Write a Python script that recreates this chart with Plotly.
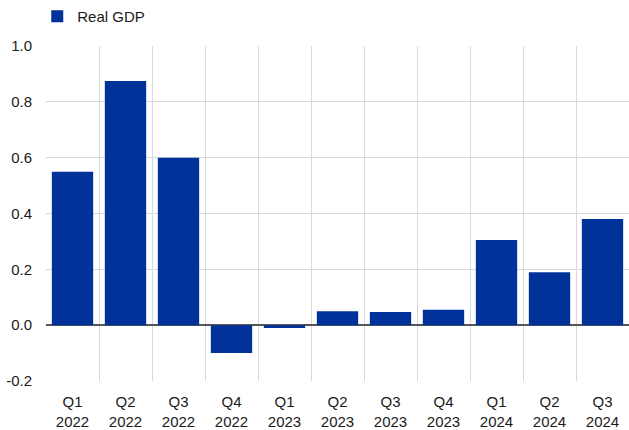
import plotly.graph_objects as go

categories = ["Q1<br>2022", "Q2<br>2022", "Q3<br>2022", "Q4<br>2022", "Q1<br>2023", "Q2<br>2023",
              "Q3<br>2023", "Q4<br>2023", "Q1<br>2024", "Q2<br>2024", "Q3<br>2024"]
real_gdp = [0.55, 0.875, 0.60, -0.10, -0.01, 0.05, 0.047, 0.055, 0.305, 0.19, 0.38]
y_tick_vals = [-0.2, 0.0, 0.2, 0.4, 0.6, 0.8, 1.0]
y_tick_text = ["-0.2", "0.0", "0.2", "0.4", "0.6", "0.8", "1.0"]

fig = go.Figure()
fig.add_trace(go.Bar(
    x=categories, y=real_gdp, name="Real GDP",
    marker=dict(color="#003299", line=dict(width=0)),
    showlegend=True,
))

fig.update_layout(
    width=629, height=430,
    margin=dict(l=46, r=0, t=44, b=47),
    paper_bgcolor="white", plot_bgcolor="white",
    font=dict(family="Liberation Sans, Arial, sans-serif", size=15, color="#1a1a1a"),
    bargap=0.22,
    showlegend=True,
    legend=dict(x=-0.015, y=1.04, xanchor="left", yanchor="bottom", orientation="h",
                font=dict(size=15), bgcolor="rgba(0,0,0,0)", itemwidth=30),
    xaxis=dict(
        type="category", tickson="boundaries", showgrid=True, gridcolor="#d9d9d9", gridwidth=1,
        ticks="", showline=False, tickfont=dict(size=15), range=[-0.5, 10.5],
        ticklabelstandoff=10,
    ),
    yaxis=dict(
        range=[-0.2, 1.0], tickvals=y_tick_vals, ticktext=y_tick_text,
        showgrid=True, gridcolor="#d9d9d9", gridwidth=1,
        zeroline=True, zerolinecolor="#555555", zerolinewidth=1.5,
        ticks="", showline=False, tickfont=dict(size=15), ticklabelstandoff=13,
    ),
)

fig.write_html("out.html", config={"displayModeBar": False},
               post_script="document.body.style.margin='0';")
